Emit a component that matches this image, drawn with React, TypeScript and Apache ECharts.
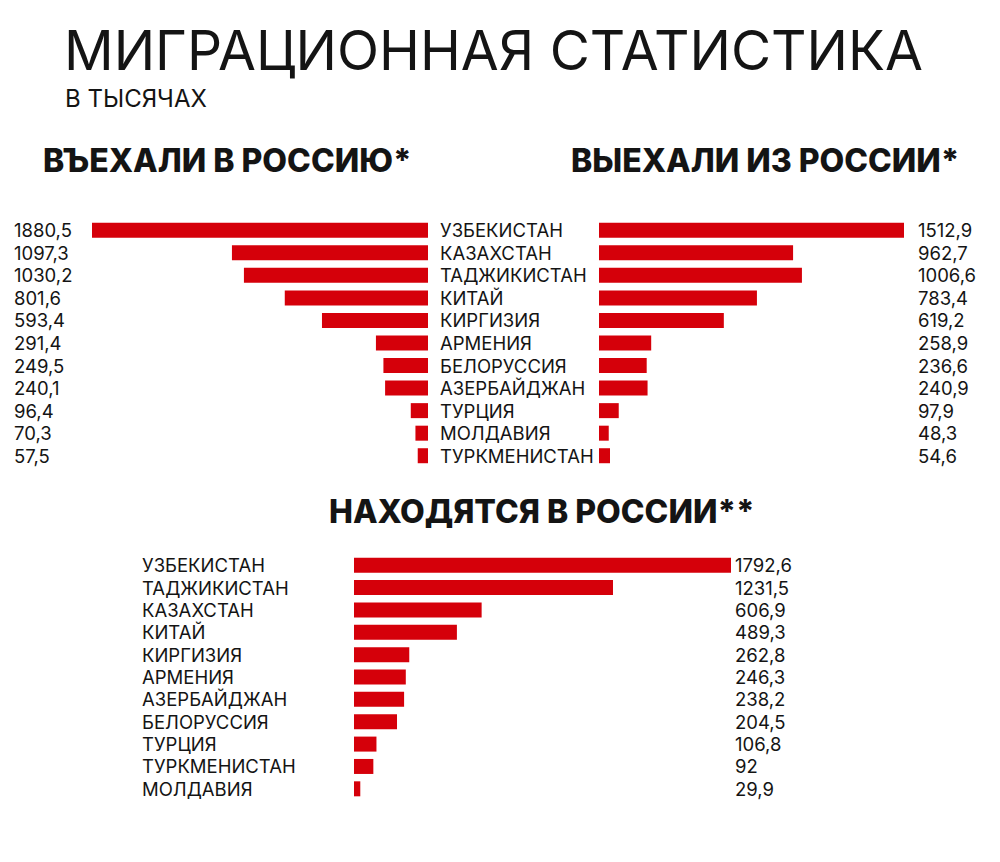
import React, { useEffect, useRef } from "react";
import * as echarts from "echarts";

const titleText = "МИГРАЦИОННАЯ СТАТИСТИКА";
const subtitleText = "В ТЫСЯЧАХ";
const enteredTitle = "ВЪЕХАЛИ В РОССИЮ*";
const leftTitle = "ВЫЕХАЛИ ИЗ РОССИИ*";
const presentTitle = "НАХОДЯТСЯ В РОССИИ**";

const flowCountries = [
  "УЗБЕКИСТАН",
  "КАЗАХСТАН",
  "ТАДЖИКИСТАН",
  "КИТАЙ",
  "КИРГИЗИЯ",
  "АРМЕНИЯ",
  "БЕЛОРУССИЯ",
  "АЗЕРБАЙДЖАН",
  "ТУРЦИЯ",
  "МОЛДАВИЯ",
  "ТУРКМЕНИСТАН",
];
const enteredValues = [1880.5, 1097.3, 1030.2, 801.6, 593.4, 291.4, 249.5, 240.1, 96.4, 70.3, 57.5];
const leftValues = [1512.9, 962.7, 1006.6, 783.4, 619.2, 258.9, 236.6, 240.9, 97.9, 48.3, 54.6];

const presentCountries = [
  "УЗБЕКИСТАН",
  "ТАДЖИКИСТАН",
  "КАЗАХСТАН",
  "КИТАЙ",
  "КИРГИЗИЯ",
  "АРМЕНИЯ",
  "АЗЕРБАЙДЖАН",
  "БЕЛОРУССИЯ",
  "ТУРЦИЯ",
  "ТУРКМЕНИСТАН",
  "МОЛДАВИЯ",
];
const presentValues = [1792.6, 1231.5, 606.9, 489.3, 262.8, 246.3, 238.2, 204.5, 106.8, 92, 29.9];

const fmt = (v: number) => String(v).replace(".", ",");

const FONT = "Inter, 'Noto Sans', sans-serif";
const RED = "#d5000a";
const INK = "#141414";
const LABEL_SIZE = 18.5;

export default function App() {
  const ref = useRef<HTMLDivElement>(null);

  useEffect(() => {
    if (!ref.current) return;
    const chart = echarts.init(ref.current, undefined, { renderer: "svg" });

    const hiddenAxis = {
      axisLine: { show: false },
      axisTick: { show: false },
      splitLine: { show: false },
    };
    const lbl = (margin: number, formatter?: any) => ({
      show: true,
      interval: 0,
      margin,
      align: "left",
      fontFamily: FONT,
      fontSize: LABEL_SIZE,
      lineHeight: 20,
      color: INK,
      ...(formatter ? { formatter } : {}),
    });

    const option: any = {
      animation: false,
      backgroundColor: "#ffffff",
      textStyle: { fontFamily: FONT },
      grid: [
        { left: 92, width: 336, top: 219, height: 248 },
        { left: 599, width: 305, top: 219, height: 248 },
        { left: 354, width: 377, top: 554, height: 246 },
      ],
      xAxis: [
        { gridIndex: 0, type: "value", min: 0, max: Math.max(...enteredValues), inverse: true, show: false },
        { gridIndex: 1, type: "value", min: 0, max: Math.max(...leftValues), show: false },
        { gridIndex: 2, type: "value", min: 0, max: Math.max(...presentValues), show: false },
      ],
      yAxis: [
        {
          gridIndex: 0, type: "category", inverse: true, position: "right",
          data: flowCountries, ...hiddenAxis, axisLabel: lbl(12),
        },
        {
          gridIndex: 0, type: "category", inverse: true, position: "left",
          data: flowCountries, ...hiddenAxis,
          axisLabel: lbl(78, (_v: string, i: number) => fmt(enteredValues[i])),
        },
        {
          gridIndex: 1, type: "category", inverse: true, position: "right",
          data: flowCountries, ...hiddenAxis,
          axisLabel: lbl(14, (_v: string, i: number) => fmt(leftValues[i])),
        },
        {
          gridIndex: 2, type: "category", inverse: true, position: "left",
          data: presentCountries, ...hiddenAxis, axisLabel: lbl(212),
        },
        {
          gridIndex: 2, type: "category", inverse: true, position: "right",
          data: presentCountries, ...hiddenAxis,
          axisLabel: lbl(4, (_v: string, i: number) => fmt(presentValues[i])),
        },
      ],
      series: [
        {
          type: "bar", name: enteredTitle, xAxisIndex: 0, yAxisIndex: 0,
          data: enteredValues, barWidth: 15, itemStyle: { color: RED },
        },
        {
          type: "bar", name: leftTitle, xAxisIndex: 1, yAxisIndex: 2,
          data: leftValues, barWidth: 15, itemStyle: { color: RED },
        },
        {
          type: "bar", name: presentTitle, xAxisIndex: 2, yAxisIndex: 3,
          data: presentValues, barWidth: 15, itemStyle: { color: RED },
        },
      ],
      graphic: [
        {
          type: "text", x: 64, y: 50,
          style: {
            text: titleText, font: `400 55px ${FONT}`, lineHeight: 42,
            fill: INK, textVerticalAlign: "middle",
          },
        },
        {
          type: "text", x: 65, y: 98,
          style: {
            text: subtitleText, font: `400 24px ${FONT}`, lineHeight: 20,
            fill: INK, textVerticalAlign: "middle",
          },
        },
        {
          type: "text", x: 43, y: 160,
          style: { text: enteredTitle, font: `800 32px ${FONT}`, lineHeight: 30, fill: INK, textVerticalAlign: "middle" },
        },
        {
          type: "text", x: 571, y: 160,
          style: { text: leftTitle, font: `800 32px ${FONT}`, lineHeight: 30, fill: INK, textVerticalAlign: "middle" },
        },
        {
          type: "text", x: 329, y: 511,
          style: { text: presentTitle, font: `800 32px ${FONT}`, lineHeight: 30, fill: INK, textVerticalAlign: "middle" },
        },
      ],
    };

    chart.setOption(option);
    return () => chart.dispose();
  }, []);

  return (
    <div
      ref={ref}
      style={{ position: "fixed", left: 0, top: 0, width: 1000, height: 862, background: "#fff" }}
    />
  );
}
